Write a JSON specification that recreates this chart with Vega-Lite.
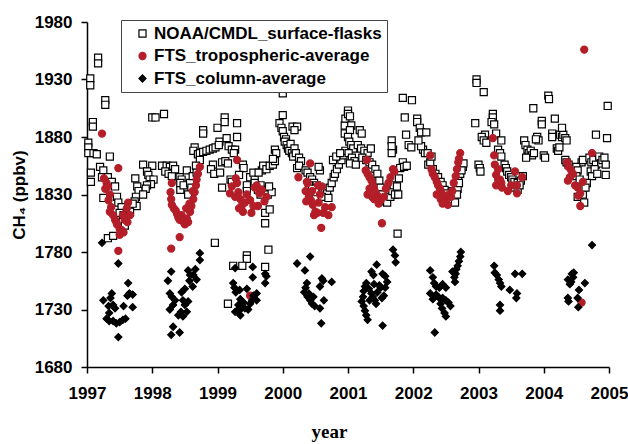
{
  "$schema": "https://vega.github.io/schema/vega-lite/v6.json",
  "autosize": {"type": "none"},
  "width": 522,
  "height": 345,
  "padding": {"left": 87, "top": 22, "right": 19, "bottom": 77},
  "background": "white",
  "config": {
    "view": {"stroke": null},
    "axis": {"grid": false, "domainColor": "black", "domainWidth": 1.5, "tickColor": "black", "tickWidth": 1.5, "tickSize": 6, "labelFont": "Liberation Sans", "labelFontSize": 17, "labelFontWeight": "bold", "labelColor": "black", "titleColor": "black", "labelFlush": false}
  },
  "data": {"values": [
{"series":"N","year":1997.05,"ch4":1931},{"series":"N","year":1997.05,"ch4":1925},{"series":"N","year":1997.17,"ch4":1949},{"series":"N","year":1997.17,"ch4":1944},{"series":"N","year":1997.28,"ch4":1912},{"series":"N","year":1997.28,"ch4":1908},{"series":"N","year":1997.09,"ch4":1893},{"series":"N","year":1997.09,"ch4":1889},{"series":"N","year":1997.02,"ch4":1875},{"series":"N","year":1997.02,"ch4":1871},{"series":"N","year":1997.02,"ch4":1866},{"series":"N","year":1997.1,"ch4":1866},{"series":"N","year":1997.15,"ch4":1865},{"series":"N","year":1997.35,"ch4":1863},{"series":"N","year":1997.2,"ch4":1854},{"series":"N","year":1997.06,"ch4":1849},{"series":"N","year":1997.06,"ch4":1841},{"series":"N","year":1997.25,"ch4":1851},{"series":"N","year":1997.23,"ch4":1845},{"series":"N","year":1997.32,"ch4":1845},{"series":"N","year":1997.38,"ch4":1841},{"series":"N","year":1997.43,"ch4":1837},{"series":"N","year":1997.46,"ch4":1828},{"series":"N","year":1997.48,"ch4":1823},{"series":"N","year":1997.53,"ch4":1819},{"series":"N","year":1997.5,"ch4":1814},{"series":"N","year":1997.55,"ch4":1808},{"series":"N","year":1997.58,"ch4":1803},{"series":"N","year":1997.56,"ch4":1812},{"series":"N","year":1997.25,"ch4":1827},{"series":"N","year":1997.32,"ch4":1792},{"series":"N","year":1997.4,"ch4":1794},{"series":"N","year":1997.74,"ch4":1844},{"series":"N","year":1997.77,"ch4":1837},{"series":"N","year":1997.79,"ch4":1833},{"series":"N","year":1997.75,"ch4":1828},{"series":"N","year":1997.73,"ch4":1824},{"series":"N","year":1997.76,"ch4":1820},{"series":"N","year":1997.63,"ch4":1817},{"series":"N","year":1997.66,"ch4":1815},{"series":"N","year":1997.7,"ch4":1822},{"series":"N","year":1997.86,"ch4":1856},{"series":"N","year":1998.0,"ch4":1855},{"series":"N","year":1997.92,"ch4":1850},{"series":"N","year":1997.94,"ch4":1847},{"series":"N","year":1997.96,"ch4":1843},{"series":"N","year":1998.02,"ch4":1843},{"series":"N","year":1997.98,"ch4":1839},{"series":"N","year":1997.92,"ch4":1838},{"series":"N","year":1997.9,"ch4":1835},{"series":"N","year":1997.86,"ch4":1830},
{"series":"N","year":1998.0,"ch4":1897},{"series":"N","year":1998.05,"ch4":1897},{"series":"N","year":1998.18,"ch4":1900},{"series":"N","year":1998.15,"ch4":1855},{"series":"N","year":1998.22,"ch4":1855},{"series":"N","year":1998.27,"ch4":1854},{"series":"N","year":1998.32,"ch4":1855},{"series":"N","year":1998.2,"ch4":1850},{"series":"N","year":1998.25,"ch4":1848},{"series":"N","year":1998.3,"ch4":1846},{"series":"N","year":1998.35,"ch4":1852},{"series":"N","year":1998.53,"ch4":1851},{"series":"N","year":1998.42,"ch4":1845},{"series":"N","year":1998.45,"ch4":1843},{"series":"N","year":1998.43,"ch4":1834},{"series":"N","year":1998.43,"ch4":1840},{"series":"N","year":1998.48,"ch4":1838},{"series":"N","year":1998.58,"ch4":1840},{"series":"N","year":1998.6,"ch4":1836},{"series":"N","year":1998.55,"ch4":1830},{"series":"N","year":1998.65,"ch4":1871},{"series":"N","year":1998.63,"ch4":1868},{"series":"N","year":1998.7,"ch4":1865},{"series":"N","year":1998.73,"ch4":1866},{"series":"N","year":1998.78,"ch4":1867},{"series":"N","year":1998.83,"ch4":1868},{"series":"N","year":1998.88,"ch4":1869},{"series":"N","year":1998.93,"ch4":1870},{"series":"N","year":1998.97,"ch4":1871},{"series":"N","year":1998.93,"ch4":1856},{"series":"N","year":1998.9,"ch4":1852},{"series":"N","year":1998.95,"ch4":1848},{"series":"N","year":1998.78,"ch4":1886},{"series":"N","year":1998.78,"ch4":1883},{"series":"N","year":1998.73,"ch4":1860},{"series":"N","year":1998.67,"ch4":1855},{"series":"N","year":1998.62,"ch4":1846},{"series":"N","year":1998.68,"ch4":1849},{"series":"N","year":1998.96,"ch4":1788},
{"series":"N","year":1999.0,"ch4":1888},{"series":"N","year":1999.11,"ch4":1897},{"series":"N","year":1999.11,"ch4":1893},{"series":"N","year":1999.3,"ch4":1892},{"series":"N","year":1999.3,"ch4":1880},{"series":"N","year":1999.03,"ch4":1876},{"series":"N","year":1999.02,"ch4":1873},{"series":"N","year":1999.14,"ch4":1879},{"series":"N","year":1999.17,"ch4":1872},{"series":"N","year":1999.22,"ch4":1869},{"series":"N","year":1999.27,"ch4":1869},{"series":"N","year":1999.25,"ch4":1866},{"series":"N","year":1999.07,"ch4":1858},{"series":"N","year":1999.12,"ch4":1859},{"series":"N","year":1999.16,"ch4":1857},{"series":"N","year":1999.39,"ch4":1856},{"series":"N","year":1999.4,"ch4":1853},{"series":"N","year":1999.04,"ch4":1849},{"series":"N","year":1999.2,"ch4":1843},{"series":"N","year":1999.22,"ch4":1841},{"series":"N","year":1999.33,"ch4":1847},{"series":"N","year":1999.07,"ch4":1836},{"series":"N","year":1999.45,"ch4":1838},{"series":"N","year":1999.45,"ch4":1833},{"series":"N","year":1999.5,"ch4":1845},{"series":"N","year":1999.57,"ch4":1846},{"series":"N","year":1999.68,"ch4":1851},{"series":"N","year":1999.7,"ch4":1855},{"series":"N","year":1999.75,"ch4":1852},{"series":"N","year":1999.8,"ch4":1855},{"series":"N","year":1999.85,"ch4":1856},{"series":"N","year":1999.66,"ch4":1838},{"series":"N","year":1999.72,"ch4":1834},{"series":"N","year":1999.77,"ch4":1830},{"series":"N","year":1999.83,"ch4":1832},{"series":"N","year":1999.79,"ch4":1837},{"series":"N","year":1999.62,"ch4":1834},{"series":"N","year":1999.66,"ch4":1830},{"series":"N","year":1999.73,"ch4":1814},{"series":"N","year":1999.73,"ch4":1805},{"series":"N","year":1999.8,"ch4":1817},{"series":"N","year":1999.55,"ch4":1849},{"series":"N","year":1999.57,"ch4":1840},{"series":"N","year":1999.63,"ch4":1849},{"series":"N","year":1999.45,"ch4":1777},{"series":"N","year":1999.45,"ch4":1774},{"series":"N","year":1999.78,"ch4":1782},{"series":"N","year":1999.24,"ch4":1768},{"series":"N","year":1999.38,"ch4":1768},{"series":"N","year":1999.73,"ch4":1767},{"series":"N","year":1999.16,"ch4":1735},
{"series":"N","year":2000.0,"ch4":1918},{"series":"N","year":2000.0,"ch4":1899},{"series":"N","year":1999.95,"ch4":1892},{"series":"N","year":1999.98,"ch4":1888},{"series":"N","year":2000.0,"ch4":1885},{"series":"N","year":2000.02,"ch4":1880},{"series":"N","year":2000.05,"ch4":1878},{"series":"N","year":2000.15,"ch4":1889},{"series":"N","year":2000.22,"ch4":1889},{"series":"N","year":2000.18,"ch4":1886},{"series":"N","year":1999.88,"ch4":1869},{"series":"N","year":1999.9,"ch4":1866},{"series":"N","year":1999.88,"ch4":1859},{"series":"N","year":1999.85,"ch4":1861},{"series":"N","year":2000.03,"ch4":1876},{"series":"N","year":2000.06,"ch4":1873},{"series":"N","year":2000.08,"ch4":1870},{"series":"N","year":2000.1,"ch4":1868},{"series":"N","year":2000.12,"ch4":1874},{"series":"N","year":2000.14,"ch4":1866},{"series":"N","year":2000.16,"ch4":1863},{"series":"N","year":2000.18,"ch4":1870},{"series":"N","year":2000.2,"ch4":1866},{"series":"N","year":2000.25,"ch4":1862},{"series":"N","year":2000.28,"ch4":1859},{"series":"N","year":2000.22,"ch4":1853},{"series":"N","year":2000.25,"ch4":1855},{"series":"N","year":2000.35,"ch4":1851},{"series":"N","year":2000.38,"ch4":1849},{"series":"N","year":2000.42,"ch4":1845},{"series":"N","year":2000.45,"ch4":1843},{"series":"N","year":2000.48,"ch4":1840},{"series":"N","year":2000.52,"ch4":1838},{"series":"N","year":2000.55,"ch4":1836},{"series":"N","year":2000.58,"ch4":1834},{"series":"N","year":2000.62,"ch4":1832},{"series":"N","year":2000.65,"ch4":1834},{"series":"N","year":2000.68,"ch4":1831},{"series":"N","year":2000.57,"ch4":1851},{"series":"N","year":2000.55,"ch4":1854},{"series":"N","year":2000.72,"ch4":1836},{"series":"N","year":2000.75,"ch4":1840},{"series":"N","year":2000.78,"ch4":1845},{"series":"N","year":2000.8,"ch4":1848},{"series":"N","year":2000.83,"ch4":1852},{"series":"N","year":2000.86,"ch4":1856},{"series":"N","year":2000.9,"ch4":1860},{"series":"N","year":2000.93,"ch4":1864},{"series":"N","year":2000.96,"ch4":1868},{"series":"N","year":2000.77,"ch4":1860},{"series":"N","year":2000.82,"ch4":1863},{"series":"N","year":2000.88,"ch4":1866},{"series":"N","year":2000.95,"ch4":1883},{"series":"N","year":2000.95,"ch4":1890},{"series":"N","year":2000.96,"ch4":1896},{"series":"N","year":2000.4,"ch4":1838},{"series":"N","year":2000.45,"ch4":1835},{"series":"N","year":2000.5,"ch4":1832},{"series":"N","year":2000.6,"ch4":1828},{"series":"N","year":2000.7,"ch4":1827},
{"series":"N","year":2001.0,"ch4":1903},{"series":"N","year":2001.0,"ch4":1900},{"series":"N","year":2001.03,"ch4":1898},{"series":"N","year":2001.05,"ch4":1890},{"series":"N","year":2001.03,"ch4":1886},{"series":"N","year":2001.18,"ch4":1886},{"series":"N","year":2001.21,"ch4":1883},{"series":"N","year":2001.0,"ch4":1880},{"series":"N","year":2001.02,"ch4":1876},{"series":"N","year":2001.05,"ch4":1873},{"series":"N","year":2001.08,"ch4":1870},{"series":"N","year":2001.01,"ch4":1866},{"series":"N","year":2001.06,"ch4":1862},{"series":"N","year":2001.1,"ch4":1859},{"series":"N","year":2001.03,"ch4":1857},{"series":"N","year":2001.12,"ch4":1856},{"series":"N","year":2001.15,"ch4":1873},{"series":"N","year":2001.2,"ch4":1870},{"series":"N","year":2001.25,"ch4":1868},{"series":"N","year":2001.3,"ch4":1866},{"series":"N","year":2001.35,"ch4":1870},{"series":"N","year":2001.22,"ch4":1862},{"series":"N","year":2001.28,"ch4":1860},{"series":"N","year":2001.33,"ch4":1858},{"series":"N","year":2001.37,"ch4":1856},{"series":"N","year":2001.42,"ch4":1852},{"series":"N","year":2001.45,"ch4":1848},{"series":"N","year":2001.48,"ch4":1842},{"series":"N","year":2001.5,"ch4":1836},{"series":"N","year":2001.52,"ch4":1830},{"series":"N","year":2001.55,"ch4":1826},{"series":"N","year":2001.57,"ch4":1824},{"series":"N","year":2001.6,"ch4":1823},{"series":"N","year":2001.65,"ch4":1828},{"series":"N","year":2001.68,"ch4":1833},{"series":"N","year":2001.72,"ch4":1830},{"series":"N","year":2001.7,"ch4":1838},{"series":"N","year":2001.76,"ch4":1796},{"series":"N","year":2001.69,"ch4":1869},{"series":"N","year":2001.67,"ch4":1877},{"series":"N","year":2001.67,"ch4":1872},{"series":"N","year":2001.67,"ch4":1866},{"series":"N","year":2001.87,"ch4":1897},{"series":"N","year":2001.89,"ch4":1882},{"series":"N","year":2001.98,"ch4":1912},{"series":"N","year":2001.84,"ch4":1914},{"series":"N","year":2001.93,"ch4":1873},{"series":"N","year":2001.97,"ch4":1871},{"series":"N","year":2001.84,"ch4":1858},{"series":"N","year":2001.8,"ch4":1853},{"series":"N","year":2001.86,"ch4":1854},{"series":"N","year":2001.9,"ch4":1855},{"series":"N","year":2001.75,"ch4":1837},{"series":"N","year":2001.77,"ch4":1830},{"series":"N","year":2001.78,"ch4":1844},
{"series":"N","year":2002.06,"ch4":1896},{"series":"N","year":2002.06,"ch4":1893},{"series":"N","year":2002.1,"ch4":1888},{"series":"N","year":2002.12,"ch4":1884},{"series":"N","year":2002.2,"ch4":1884},{"series":"N","year":2002.15,"ch4":1869},{"series":"N","year":2002.18,"ch4":1866},{"series":"N","year":2002.22,"ch4":1866},{"series":"N","year":2002.23,"ch4":1856},{"series":"N","year":2002.26,"ch4":1858},{"series":"N","year":2002.28,"ch4":1863},{"series":"N","year":2002.3,"ch4":1852},{"series":"N","year":2002.34,"ch4":1848},{"series":"N","year":2002.38,"ch4":1845},{"series":"N","year":2002.42,"ch4":1841},{"series":"N","year":2002.45,"ch4":1838},{"series":"N","year":2002.48,"ch4":1834},{"series":"N","year":2002.52,"ch4":1831},{"series":"N","year":2002.55,"ch4":1828},{"series":"N","year":2002.58,"ch4":1826},{"series":"N","year":2002.62,"ch4":1828},{"series":"N","year":2002.64,"ch4":1823},{"series":"N","year":2002.6,"ch4":1833},{"series":"N","year":2002.68,"ch4":1835},{"series":"N","year":2002.69,"ch4":1844},{"series":"N","year":2002.7,"ch4":1840},{"series":"N","year":2002.72,"ch4":1848},{"series":"N","year":2002.76,"ch4":1854},{"series":"N","year":2002.77,"ch4":1857},{"series":"N","year":2002.74,"ch4":1851},{"series":"N","year":2002.67,"ch4":1830},{"series":"N","year":2002.12,"ch4":1872},{"series":"N","year":2002.08,"ch4":1877},
{"series":"N","year":2002.97,"ch4":1930},{"series":"N","year":2002.97,"ch4":1927},{"series":"N","year":2003.08,"ch4":1919},{"series":"N","year":2003.22,"ch4":1900},{"series":"N","year":2003.22,"ch4":1897},{"series":"N","year":2003.2,"ch4":1893},{"series":"N","year":2003.24,"ch4":1891},{"series":"N","year":2002.95,"ch4":1892},{"series":"N","year":2003.1,"ch4":1882},{"series":"N","year":2003.05,"ch4":1880},{"series":"N","year":2003.08,"ch4":1877},{"series":"N","year":2003.12,"ch4":1875},{"series":"N","year":2003.27,"ch4":1883},{"series":"N","year":2003.35,"ch4":1877},{"series":"N","year":2003.0,"ch4":1856},{"series":"N","year":2003.02,"ch4":1853},{"series":"N","year":2003.03,"ch4":1850},{"series":"N","year":2003.3,"ch4":1869},{"series":"N","year":2003.33,"ch4":1866},{"series":"N","year":2003.35,"ch4":1863},{"series":"N","year":2003.4,"ch4":1856},{"series":"N","year":2003.42,"ch4":1853},{"series":"N","year":2003.44,"ch4":1850},{"series":"N","year":2003.47,"ch4":1847},{"series":"N","year":2003.5,"ch4":1845},{"series":"N","year":2003.52,"ch4":1843},{"series":"N","year":2003.55,"ch4":1841},{"series":"N","year":2003.6,"ch4":1840},{"series":"N","year":2003.65,"ch4":1842},{"series":"N","year":2003.68,"ch4":1846},{"series":"N","year":2003.56,"ch4":1836},{"series":"N","year":2003.6,"ch4":1834},{"series":"N","year":2003.63,"ch4":1838},{"series":"N","year":2003.7,"ch4":1877},{"series":"N","year":2003.72,"ch4":1873},{"series":"N","year":2003.75,"ch4":1869},{"series":"N","year":2003.77,"ch4":1866},{"series":"N","year":2003.8,"ch4":1868},{"series":"N","year":2003.82,"ch4":1864},{"series":"N","year":2003.85,"ch4":1866},{"series":"N","year":2003.73,"ch4":1862},{"series":"N","year":2003.84,"ch4":1905},{"series":"N","year":2003.9,"ch4":1880},{"series":"N","year":2003.92,"ch4":1877},{"series":"N","year":2003.88,"ch4":1878},{"series":"N","year":2004.0,"ch4":1864},{"series":"N","year":2004.02,"ch4":1862},{"series":"N","year":2003.97,"ch4":1894},{"series":"N","year":2003.97,"ch4":1891},
{"series":"N","year":2004.17,"ch4":1896},{"series":"N","year":2004.07,"ch4":1916},{"series":"N","year":2004.08,"ch4":1913},{"series":"N","year":2004.13,"ch4":1883},{"series":"N","year":2004.13,"ch4":1880},{"series":"N","year":2004.25,"ch4":1882},{"series":"N","year":2004.28,"ch4":1880},{"series":"N","year":2004.3,"ch4":1882},{"series":"N","year":2004.33,"ch4":1879},{"series":"N","year":2004.35,"ch4":1877},{"series":"N","year":2004.28,"ch4":1888},{"series":"N","year":2004.2,"ch4":1870},{"series":"N","year":2004.22,"ch4":1868},{"series":"N","year":2004.24,"ch4":1871},{"series":"N","year":2004.33,"ch4":1860},{"series":"N","year":2004.35,"ch4":1858},{"series":"N","year":2004.38,"ch4":1856},{"series":"N","year":2004.58,"ch4":1858},{"series":"N","year":2004.5,"ch4":1854},{"series":"N","year":2004.52,"ch4":1851},{"series":"N","year":2004.5,"ch4":1846},{"series":"N","year":2004.55,"ch4":1843},{"series":"N","year":2004.52,"ch4":1828},{"series":"N","year":2004.6,"ch4":1830},{"series":"N","year":2004.62,"ch4":1823},{"series":"N","year":2004.6,"ch4":1860},{"series":"N","year":2004.8,"ch4":1882},{"series":"N","year":2004.97,"ch4":1879},{"series":"N","year":2004.98,"ch4":1907},{"series":"N","year":2004.7,"ch4":1862},{"series":"N","year":2004.73,"ch4":1858},{"series":"N","year":2004.76,"ch4":1860},{"series":"N","year":2004.8,"ch4":1856},{"series":"N","year":2004.85,"ch4":1863},{"series":"N","year":2004.88,"ch4":1857},{"series":"N","year":2004.9,"ch4":1860},{"series":"N","year":2004.93,"ch4":1862},{"series":"N","year":2004.95,"ch4":1856},{"series":"N","year":2004.72,"ch4":1850},{"series":"N","year":2004.74,"ch4":1846},{"series":"N","year":2004.95,"ch4":1847},{"series":"N","year":2004.78,"ch4":1852},{"series":"N","year":2004.82,"ch4":1848},{"series":"N","year":2004.66,"ch4":1840},{"series":"N","year":2004.64,"ch4":1836},
{"series":"T","year":1997.23,"ch4":1883},{"series":"T","year":1997.48,"ch4":1853},{"series":"T","year":1997.26,"ch4":1844},{"series":"T","year":1997.3,"ch4":1840},{"series":"T","year":1997.32,"ch4":1837},{"series":"T","year":1997.28,"ch4":1835},{"series":"T","year":1997.35,"ch4":1830},{"series":"T","year":1997.33,"ch4":1825},{"series":"T","year":1997.37,"ch4":1819},{"series":"T","year":1997.35,"ch4":1815},{"series":"T","year":1997.4,"ch4":1812},{"series":"T","year":1997.43,"ch4":1808},{"series":"T","year":1997.46,"ch4":1804},{"series":"T","year":1997.5,"ch4":1800},{"series":"T","year":1997.53,"ch4":1799},{"series":"T","year":1997.56,"ch4":1797},{"series":"T","year":1997.5,"ch4":1795},{"series":"T","year":1997.45,"ch4":1806},{"series":"T","year":1997.63,"ch4":1823},{"series":"T","year":1997.61,"ch4":1818},{"series":"T","year":1997.66,"ch4":1812},{"series":"T","year":1997.62,"ch4":1806},{"series":"T","year":1997.48,"ch4":1781},{"series":"T","year":1997.58,"ch4":1808},{"series":"T","year":1997.55,"ch4":1812},
{"series":"T","year":1998.3,"ch4":1840},{"series":"T","year":1998.28,"ch4":1832},{"series":"T","year":1998.29,"ch4":1826},{"series":"T","year":1998.3,"ch4":1821},{"series":"T","year":1998.33,"ch4":1818},{"series":"T","year":1998.36,"ch4":1816},{"series":"T","year":1998.38,"ch4":1813},{"series":"T","year":1998.4,"ch4":1810},{"series":"T","year":1998.42,"ch4":1808},{"series":"T","year":1998.45,"ch4":1812},{"series":"T","year":1998.48,"ch4":1806},{"series":"T","year":1998.5,"ch4":1804},{"series":"T","year":1998.53,"ch4":1809},{"series":"T","year":1998.55,"ch4":1806},{"series":"T","year":1998.42,"ch4":1793},{"series":"T","year":1998.29,"ch4":1783},{"series":"T","year":1998.58,"ch4":1815},{"series":"T","year":1998.6,"ch4":1820},{"series":"T","year":1998.63,"ch4":1826},{"series":"T","year":1998.65,"ch4":1832},{"series":"T","year":1998.68,"ch4":1843},{"series":"T","year":1998.7,"ch4":1848},{"series":"T","year":1998.73,"ch4":1854},{"series":"T","year":1998.67,"ch4":1838},{"series":"T","year":1998.62,"ch4":1833},{"series":"T","year":1998.57,"ch4":1822},{"series":"T","year":1998.52,"ch4":1818},
{"series":"T","year":1999.3,"ch4":1860},{"series":"T","year":1999.28,"ch4":1844},{"series":"T","year":1999.3,"ch4":1840},{"series":"T","year":1999.22,"ch4":1837},{"series":"T","year":1999.19,"ch4":1831},{"series":"T","year":1999.27,"ch4":1828},{"series":"T","year":1999.32,"ch4":1832},{"series":"T","year":1999.35,"ch4":1826},{"series":"T","year":1999.37,"ch4":1820},{"series":"T","year":1999.39,"ch4":1815},{"series":"T","year":1999.33,"ch4":1818},{"series":"T","year":1999.42,"ch4":1823},{"series":"T","year":1999.52,"ch4":1814},{"series":"T","year":1999.45,"ch4":1830},{"series":"T","year":1999.5,"ch4":1825},{"series":"T","year":1999.57,"ch4":1836},{"series":"T","year":1999.6,"ch4":1838},{"series":"T","year":1999.64,"ch4":1831},{"series":"T","year":1999.68,"ch4":1834},{"series":"T","year":1999.75,"ch4":1828},{"series":"T","year":1999.72,"ch4":1824},{"series":"T","year":1999.62,"ch4":1820},{"series":"T","year":1999.55,"ch4":1820},{"series":"T","year":1999.5,"ch4":1742},
{"series":"T","year":2000.24,"ch4":1845},{"series":"T","year":2000.42,"ch4":1857},{"series":"T","year":2000.38,"ch4":1840},{"series":"T","year":2000.35,"ch4":1833},{"series":"T","year":2000.4,"ch4":1828},{"series":"T","year":2000.43,"ch4":1825},{"series":"T","year":2000.46,"ch4":1821},{"series":"T","year":2000.5,"ch4":1815},{"series":"T","year":2000.48,"ch4":1812},{"series":"T","year":2000.53,"ch4":1814},{"series":"T","year":2000.55,"ch4":1823},{"series":"T","year":2000.62,"ch4":1814},{"series":"T","year":2000.59,"ch4":1801},{"series":"T","year":2000.65,"ch4":1819},{"series":"T","year":2000.7,"ch4":1812},{"series":"T","year":2000.75,"ch4":1819},{"series":"T","year":2000.6,"ch4":1837},{"series":"T","year":2000.57,"ch4":1830},{"series":"T","year":2000.54,"ch4":1838},{"series":"T","year":2000.45,"ch4":1833},{"series":"T","year":2000.37,"ch4":1841},{"series":"T","year":2000.36,"ch4":1824},
{"series":"T","year":2001.29,"ch4":1860},{"series":"T","year":2001.27,"ch4":1851},{"series":"T","year":2001.3,"ch4":1848},{"series":"T","year":2001.33,"ch4":1845},{"series":"T","year":2001.36,"ch4":1842},{"series":"T","year":2001.38,"ch4":1838},{"series":"T","year":2001.4,"ch4":1835},{"series":"T","year":2001.42,"ch4":1832},{"series":"T","year":2001.45,"ch4":1829},{"series":"T","year":2001.3,"ch4":1830},{"series":"T","year":2001.33,"ch4":1835},{"series":"T","year":2001.5,"ch4":1825},{"series":"T","year":2001.52,"ch4":1805},{"series":"T","year":2001.47,"ch4":1822},{"series":"T","year":2001.55,"ch4":1828},{"series":"T","year":2001.58,"ch4":1835},{"series":"T","year":2001.62,"ch4":1840},{"series":"T","year":2001.65,"ch4":1845},{"series":"T","year":2001.69,"ch4":1852},{"series":"T","year":2001.71,"ch4":1850},{"series":"T","year":2001.4,"ch4":1826},{"series":"T","year":2001.37,"ch4":1828},
{"series":"T","year":2002.26,"ch4":1864},{"series":"T","year":2002.28,"ch4":1852},{"series":"T","year":2002.3,"ch4":1848},{"series":"T","year":2002.33,"ch4":1845},{"series":"T","year":2002.36,"ch4":1841},{"series":"T","year":2002.38,"ch4":1838},{"series":"T","year":2002.41,"ch4":1835},{"series":"T","year":2002.43,"ch4":1832},{"series":"T","year":2002.46,"ch4":1829},{"series":"T","year":2002.48,"ch4":1826},{"series":"T","year":2002.5,"ch4":1823},{"series":"T","year":2002.53,"ch4":1821},{"series":"T","year":2002.36,"ch4":1830},{"series":"T","year":2002.55,"ch4":1830},{"series":"T","year":2002.58,"ch4":1828},{"series":"T","year":2002.6,"ch4":1833},{"series":"T","year":2002.62,"ch4":1840},{"series":"T","year":2002.65,"ch4":1846},{"series":"T","year":2002.67,"ch4":1852},{"series":"T","year":2002.69,"ch4":1858},{"series":"T","year":2002.72,"ch4":1866},{"series":"T","year":2002.7,"ch4":1861},{"series":"T","year":2002.42,"ch4":1826},{"series":"T","year":2002.45,"ch4":1822},
{"series":"T","year":2003.22,"ch4":1879},{"series":"T","year":2003.24,"ch4":1864},{"series":"T","year":2003.25,"ch4":1856},{"series":"T","year":2003.27,"ch4":1847},{"series":"T","year":2003.3,"ch4":1843},{"series":"T","year":2003.33,"ch4":1843},{"series":"T","year":2003.35,"ch4":1840},{"series":"T","year":2003.36,"ch4":1836},{"series":"T","year":2003.56,"ch4":1850},{"series":"T","year":2003.67,"ch4":1845},{"series":"T","year":2003.5,"ch4":1838},{"series":"T","year":2003.59,"ch4":1838},{"series":"T","year":2003.59,"ch4":1831},{"series":"T","year":2003.45,"ch4":1833},{"series":"T","year":2003.27,"ch4":1838},{"series":"T","year":2003.3,"ch4":1852},
{"series":"T","year":2004.36,"ch4":1858},{"series":"T","year":2004.38,"ch4":1854},{"series":"T","year":2004.42,"ch4":1851},{"series":"T","year":2004.45,"ch4":1848},{"series":"T","year":2004.4,"ch4":1845},{"series":"T","year":2004.37,"ch4":1842},{"series":"T","year":2004.52,"ch4":1836},{"series":"T","year":2004.6,"ch4":1841},{"series":"T","year":2004.56,"ch4":1831},{"series":"T","year":2004.53,"ch4":1829},{"series":"T","year":2004.56,"ch4":1820},{"series":"T","year":2004.62,"ch4":1956},{"series":"T","year":2004.74,"ch4":1866},{"series":"T","year":2004.58,"ch4":1736},{"series":"T","year":2004.48,"ch4":1838},
{"series":"C","year":1997.23,"ch4":1788},{"series":"C","year":1997.48,"ch4":1770},{"series":"C","year":1997.63,"ch4":1753},{"series":"C","year":1997.65,"ch4":1744},{"series":"C","year":1997.7,"ch4":1743},{"series":"C","year":1997.38,"ch4":1744},{"series":"C","year":1997.25,"ch4":1738},{"series":"C","year":1997.4,"ch4":1734},{"series":"C","year":1997.43,"ch4":1731},{"series":"C","year":1997.33,"ch4":1733},{"series":"C","year":1997.34,"ch4":1727},{"series":"C","year":1997.56,"ch4":1733},{"series":"C","year":1997.7,"ch4":1732},{"series":"C","year":1997.3,"ch4":1722},{"series":"C","year":1997.34,"ch4":1720},{"series":"C","year":1997.4,"ch4":1720},{"series":"C","year":1997.45,"ch4":1718},{"series":"C","year":1997.5,"ch4":1719},{"series":"C","year":1997.55,"ch4":1721},{"series":"C","year":1997.59,"ch4":1722},{"series":"C","year":1997.48,"ch4":1706},{"series":"C","year":1997.36,"ch4":1740},{"series":"C","year":1997.62,"ch4":1742},
{"series":"C","year":1998.29,"ch4":1763},{"series":"C","year":1998.24,"ch4":1755},{"series":"C","year":1998.27,"ch4":1744},{"series":"C","year":1998.3,"ch4":1741},{"series":"C","year":1998.32,"ch4":1734},{"series":"C","year":1998.27,"ch4":1730},{"series":"C","year":1998.32,"ch4":1715},{"series":"C","year":1998.42,"ch4":1710},{"series":"C","year":1998.29,"ch4":1708},{"series":"C","year":1998.55,"ch4":1764},{"series":"C","year":1998.58,"ch4":1760},{"series":"C","year":1998.63,"ch4":1760},{"series":"C","year":1998.73,"ch4":1779},{"series":"C","year":1998.73,"ch4":1773},{"series":"C","year":1998.5,"ch4":1734},{"series":"C","year":1998.47,"ch4":1738},{"series":"C","year":1998.45,"ch4":1745},{"series":"C","year":1998.53,"ch4":1728},{"series":"C","year":1998.47,"ch4":1724},{"series":"C","year":1998.4,"ch4":1725},{"series":"C","year":1998.57,"ch4":1755},{"series":"C","year":1998.62,"ch4":1750},{"series":"C","year":1998.68,"ch4":1756},{"series":"C","year":1998.55,"ch4":1737},{"series":"C","year":1998.44,"ch4":1728},{"series":"C","year":1998.5,"ch4":1748},{"series":"C","year":1998.66,"ch4":1765},{"series":"C","year":1998.35,"ch4":1738},
{"series":"C","year":1999.27,"ch4":1766},{"series":"C","year":1999.24,"ch4":1753},{"series":"C","year":1999.26,"ch4":1749},{"series":"C","year":1999.28,"ch4":1745},{"series":"C","year":1999.54,"ch4":1767},{"series":"C","year":1999.54,"ch4":1758},{"series":"C","year":1999.73,"ch4":1761},{"series":"C","year":1999.75,"ch4":1759},{"series":"C","year":1999.73,"ch4":1753},{"series":"C","year":1999.34,"ch4":1747},{"series":"C","year":1999.45,"ch4":1748},{"series":"C","year":1999.55,"ch4":1742},{"series":"C","year":1999.53,"ch4":1738},{"series":"C","year":1999.5,"ch4":1735},{"series":"C","year":1999.35,"ch4":1739},{"series":"C","year":1999.32,"ch4":1734},{"series":"C","year":1999.37,"ch4":1731},{"series":"C","year":1999.3,"ch4":1729},{"series":"C","year":1999.27,"ch4":1728},{"series":"C","year":1999.35,"ch4":1725},{"series":"C","year":1999.42,"ch4":1731},{"series":"C","year":1999.47,"ch4":1730},{"series":"C","year":1999.6,"ch4":1738},{"series":"C","year":1999.6,"ch4":1744},{"series":"C","year":1999.4,"ch4":1736},
{"series":"C","year":2000.22,"ch4":1770},{"series":"C","year":2000.42,"ch4":1776},{"series":"C","year":2000.34,"ch4":1764},{"series":"C","year":2000.37,"ch4":1753},{"series":"C","year":2000.35,"ch4":1749},{"series":"C","year":2000.33,"ch4":1745},{"series":"C","year":2000.38,"ch4":1741},{"series":"C","year":2000.42,"ch4":1738},{"series":"C","year":2000.45,"ch4":1735},{"series":"C","year":2000.49,"ch4":1733},{"series":"C","year":2000.6,"ch4":1757},{"series":"C","year":2000.62,"ch4":1755},{"series":"C","year":2000.57,"ch4":1750},{"series":"C","year":2000.63,"ch4":1738},{"series":"C","year":2000.57,"ch4":1731},{"series":"C","year":2000.75,"ch4":1754},{"series":"C","year":2000.59,"ch4":1718},{"series":"C","year":2000.4,"ch4":1744},{"series":"C","year":2000.47,"ch4":1741},
{"series":"C","year":2001.44,"ch4":1769},{"series":"C","year":2001.36,"ch4":1763},{"series":"C","year":2001.39,"ch4":1760},{"series":"C","year":2001.53,"ch4":1761},{"series":"C","year":2001.57,"ch4":1759},{"series":"C","year":2001.28,"ch4":1753},{"series":"C","year":2001.26,"ch4":1750},{"series":"C","year":2001.24,"ch4":1746},{"series":"C","year":2001.48,"ch4":1751},{"series":"C","year":2001.5,"ch4":1749},{"series":"C","year":2001.57,"ch4":1749},{"series":"C","year":2001.23,"ch4":1741},{"series":"C","year":2001.21,"ch4":1737},{"series":"C","year":2001.24,"ch4":1733},{"series":"C","year":2001.26,"ch4":1729},{"series":"C","year":2001.28,"ch4":1725},{"series":"C","year":2001.3,"ch4":1721},{"series":"C","year":2001.38,"ch4":1741},{"series":"C","year":2001.41,"ch4":1738},{"series":"C","year":2001.43,"ch4":1735},{"series":"C","year":2001.33,"ch4":1738},{"series":"C","year":2001.36,"ch4":1744},{"series":"C","year":2001.53,"ch4":1716},{"series":"C","year":2001.69,"ch4":1782},{"series":"C","year":2001.72,"ch4":1777},{"series":"C","year":2001.73,"ch4":1771},{"series":"C","year":2001.6,"ch4":1754},{"series":"C","year":2001.55,"ch4":1742},{"series":"C","year":2001.52,"ch4":1740},{"series":"C","year":2001.45,"ch4":1745},{"series":"C","year":2001.32,"ch4":1748},{"series":"C","year":2001.4,"ch4":1752},
{"series":"C","year":2002.26,"ch4":1764},{"series":"C","year":2002.3,"ch4":1758},{"series":"C","year":2002.32,"ch4":1753},{"series":"C","year":2002.35,"ch4":1750},{"series":"C","year":2002.4,"ch4":1749},{"series":"C","year":2002.45,"ch4":1752},{"series":"C","year":2002.5,"ch4":1749},{"series":"C","year":2002.26,"ch4":1744},{"series":"C","year":2002.35,"ch4":1743},{"series":"C","year":2002.4,"ch4":1740},{"series":"C","year":2002.45,"ch4":1740},{"series":"C","year":2002.5,"ch4":1738},{"series":"C","year":2002.54,"ch4":1736},{"series":"C","year":2002.57,"ch4":1733},{"series":"C","year":2002.3,"ch4":1739},{"series":"C","year":2002.48,"ch4":1727},{"series":"C","year":2002.5,"ch4":1724},{"series":"C","year":2002.64,"ch4":1754},{"series":"C","year":2002.73,"ch4":1780},{"series":"C","year":2002.72,"ch4":1776},{"series":"C","year":2002.7,"ch4":1772},{"series":"C","year":2002.68,"ch4":1768},{"series":"C","year":2002.66,"ch4":1765},{"series":"C","year":2002.65,"ch4":1761},{"series":"C","year":2002.63,"ch4":1758},{"series":"C","year":2002.6,"ch4":1763},{"series":"C","year":2002.33,"ch4":1710},{"series":"C","year":2002.44,"ch4":1731},{"series":"C","year":2002.42,"ch4":1735},
{"series":"C","year":2003.24,"ch4":1768},{"series":"C","year":2003.25,"ch4":1762},{"series":"C","year":2003.28,"ch4":1760},{"series":"C","year":2003.31,"ch4":1756},{"series":"C","year":2003.33,"ch4":1753},{"series":"C","year":2003.35,"ch4":1750},{"series":"C","year":2003.48,"ch4":1747},{"series":"C","year":2003.59,"ch4":1744},{"series":"C","year":2003.58,"ch4":1740},{"series":"C","year":2003.33,"ch4":1734},{"series":"C","year":2003.33,"ch4":1729},{"series":"C","year":2003.56,"ch4":1761},{"series":"C","year":2003.67,"ch4":1761},
{"series":"C","year":2004.37,"ch4":1756},{"series":"C","year":2004.43,"ch4":1761},{"series":"C","year":2004.46,"ch4":1762},{"series":"C","year":2004.4,"ch4":1752},{"series":"C","year":2004.42,"ch4":1754},{"series":"C","year":2004.37,"ch4":1740},{"series":"C","year":2004.38,"ch4":1737},{"series":"C","year":2004.52,"ch4":1740},{"series":"C","year":2004.54,"ch4":1747},{"series":"C","year":2004.63,"ch4":1753},{"series":"C","year":2004.53,"ch4":1732},{"series":"C","year":2004.74,"ch4":1786},{"series":"C","year":2004.45,"ch4":1758}
  ]},
  "mark": {"type": "point", "filled": false, "opacity": 1, "strokeWidth": 1.2, "size": 50},
  "encoding": {
    "x": {"field": "year", "type": "quantitative", "scale": {"domain": [1997, 2005], "nice": false, "zero": false},
      "axis": {"values": [1997, 1998, 1999, 2000, 2001, 2002, 2003, 2004, 2005], "format": "d", "labelPadding": 12, "title": "year", "titleFont": "Liberation Serif", "titleFontSize": 19, "titleFontWeight": "bold", "titleX": 242, "titleY": 70, "titleBaseline": "alphabetic", "titleAnchor": "middle"}},
    "y": {"field": "ch4", "type": "quantitative", "scale": {"domain": [1680, 1980], "nice": false, "zero": false},
      "axis": {"values": [1680, 1730, 1780, 1830, 1880, 1930, 1980], "format": "d", "labelPadding": 9, "title": "CH₄ (ppbv)", "titleFont": "Liberation Sans", "titleFontSize": 17, "titleFontWeight": "bold", "titlePadding": 6}},
    "shape": {"field": "series", "type": "nominal", "scale": {"domain": ["N", "T", "C"], "range": ["square", "circle", "diamond"]},
      "legend": {"title": null, "orient": "none", "legendX": 34, "legendY": -2, "padding": 5, "strokeColor": "#444444", "fillColor": "white", "labelFont": "Liberation Sans", "labelFontSize": 17, "labelFontWeight": "bold", "labelColor": "black", "labelLimit": 0, "symbolOffset": 8, "labelOffset": 3, "rowPadding": 4.5, "symbolSize": 50, "symbolStrokeWidth": 1.2, "labelExpr": "datum.value == 'N' ? 'NOAA/CMDL_surface-flasks   ' : datum.value == 'T' ? 'FTS_tropospheric-average' : 'FTS_column-average'"}},
    "fill": {"field": "series", "type": "nominal", "scale": {"domain": ["N", "T", "C"], "range": ["white", "#B41E28", "black"]}},
    "stroke": {"field": "series", "type": "nominal", "scale": {"domain": ["N", "T", "C"], "range": ["black", "#B41E28", "black"]}}
  }
}
